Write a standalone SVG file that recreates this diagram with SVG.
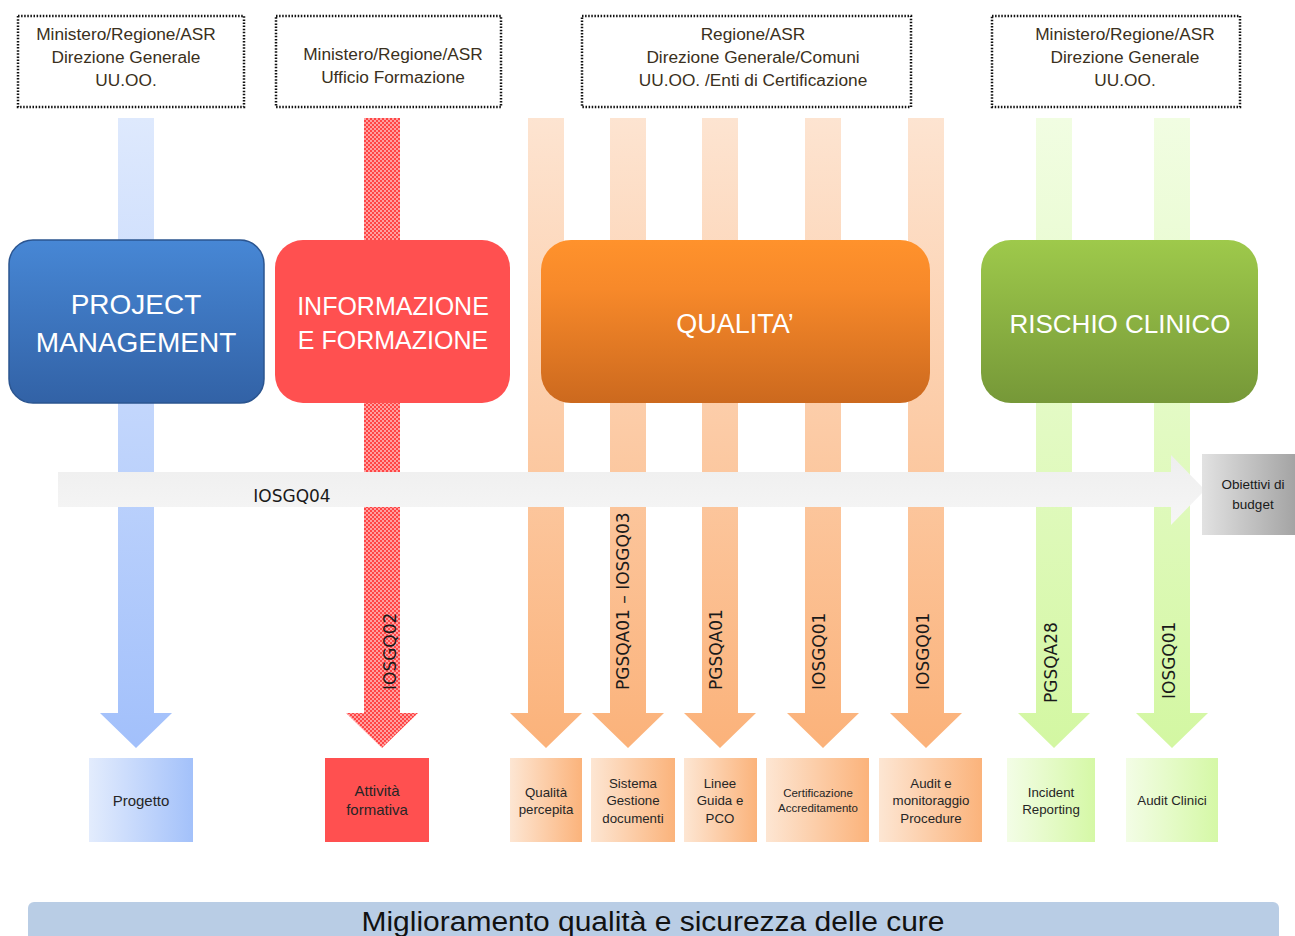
<svg xmlns="http://www.w3.org/2000/svg" width="1295" height="936" viewBox="0 0 1295 936">
<defs>
  <linearGradient id="gBlueBar" x1="0" y1="0" x2="0" y2="1"><stop offset="0" stop-color="#dee9fd"/><stop offset="1" stop-color="#a2c0fb"/></linearGradient>
  <linearGradient id="gOrBar" x1="0" y1="0" x2="0" y2="1"><stop offset="0" stop-color="#fde4d1"/><stop offset="1" stop-color="#fbb27a"/></linearGradient>
  <linearGradient id="gGrBar" x1="0" y1="0" x2="0" y2="1"><stop offset="0" stop-color="#f1fde2"/><stop offset="1" stop-color="#d3f7a2"/></linearGradient>
  <pattern id="pRed" width="4" height="4" patternUnits="userSpaceOnUse">
    <rect width="4" height="4" fill="#ffa0a0"/>
    <rect width="2" height="2" fill="#ff4545"/>
    <rect x="2" y="2" width="2" height="2" fill="#ff4545"/>
  </pattern>
  <linearGradient id="gGray" x1="0" y1="0" x2="0" y2="1"><stop offset="0" stop-color="#eeeeee"/><stop offset="1" stop-color="#f6f6f6"/></linearGradient>
  <linearGradient id="gObj" x1="0" y1="0" x2="1" y2="0"><stop offset="0" stop-color="#e2e2e2"/><stop offset="1" stop-color="#a4a4a4"/></linearGradient>
  <linearGradient id="gPM" x1="0" y1="0" x2="0" y2="1"><stop offset="0" stop-color="#4787d5"/><stop offset="1" stop-color="#3262a6"/></linearGradient>
  <linearGradient id="gQ" x1="0" y1="0" x2="0" y2="1"><stop offset="0" stop-color="#ff922c"/><stop offset="0.3" stop-color="#f7892a"/><stop offset="1" stop-color="#cc691e"/></linearGradient>
  <linearGradient id="gRC" x1="0" y1="0" x2="0" y2="1"><stop offset="0" stop-color="#9ec94b"/><stop offset="1" stop-color="#769838"/></linearGradient>
  <linearGradient id="gBlueBox" x1="0" y1="0" x2="1" y2="0"><stop offset="0" stop-color="#e3ecfd"/><stop offset="1" stop-color="#a3c1fa"/></linearGradient>
  <linearGradient id="gOrBox" x1="0" y1="0" x2="1" y2="0"><stop offset="0" stop-color="#fde6d3"/><stop offset="1" stop-color="#fbb37b"/></linearGradient>
  <linearGradient id="gGrBox" x1="0" y1="0" x2="1" y2="0"><stop offset="0" stop-color="#f3fde6"/><stop offset="1" stop-color="#d5f8a6"/></linearGradient>
</defs>
<style>
  .src rect { fill: #ffffff; stroke: #111111; stroke-width: 2.5; stroke-dasharray: 1.5 1.6; }
  .src text { font-family: "Liberation Sans", Arial, sans-serif; font-size: 17.3px; fill: #3a3020; text-anchor: middle; }
  .big text { font-family: "Liberation Sans", Arial, sans-serif; fill: #ffffff; text-anchor: middle; }
  .vlab { font-family: "DejaVu Sans", Verdana, sans-serif; font-size: 17px; fill: #1a1a1a; }
  .out text { font-family: "Liberation Sans", Arial, sans-serif; fill: #262626; text-anchor: middle; }
  .out text.m { font-size: 13.3px; }
  .out text.l { font-size: 15px; }
  .out text.s { font-size: 11.5px; }
</style>
<rect width="1295" height="936" fill="#ffffff"/>

<!-- source boxes -->
<g id="src1" class="src"><rect x="18" y="16" width="226" height="91"/>
  <text x="126" y="40">Ministero/Regione/ASR</text><text x="126" y="63">Direzione Generale</text><text x="126" y="86">UU.OO.</text></g>
<g id="src2" class="src"><rect x="276" y="16" width="225" height="91"/>
  <text x="393" y="60">Ministero/Regione/ASR</text><text x="393" y="83">Ufficio Formazione</text></g>
<g id="src3" class="src"><rect x="582" y="16" width="329" height="91"/>
  <text x="753" y="40">Regione/ASR</text><text x="753" y="63">Direzione Generale/Comuni</text><text x="753" y="86">UU.OO. /Enti di Certificazione</text></g>
<g id="src4" class="src"><rect x="992" y="16" width="248" height="91"/>
  <text x="1125" y="40">Ministero/Regione/ASR</text><text x="1125" y="63">Direzione Generale</text><text x="1125" y="86">UU.OO.</text></g>

<!-- connectors -->
<g id="connectors">
  <polygon fill="url(#gBlueBar)" points="118,118 154,118 154,713 172,713 136,748 100,713 118,713"/>
  <polygon fill="url(#pRed)" points="364,118 400,118 400,713 418,713 382,748 346,713 364,713"/>
  <polygon fill="url(#gOrBar)" points="528,118 564,118 564,713 582,713 546,748 510,713 528,713"/>
  <polygon fill="url(#gOrBar)" points="610,118 646,118 646,713 664,713 628,748 592,713 610,713"/>
  <polygon fill="url(#gOrBar)" points="702,118 738,118 738,713 756,713 720,748 684,713 702,713"/>
  <polygon fill="url(#gOrBar)" points="805,118 841,118 841,713 859,713 823,748 787,713 805,713"/>
  <polygon fill="url(#gOrBar)" points="908,118 944,118 944,713 962,713 926,748 890,713 908,713"/>
  <polygon fill="url(#gGrBar)" points="1036,118 1072,118 1072,713 1090,713 1054,748 1018,713 1036,713"/>
  <polygon fill="url(#gGrBar)" points="1154,118 1190,118 1190,713 1208,713 1172,748 1136,713 1154,713"/>
  <text class="vlab" transform="translate(396,690) rotate(-90)">IOSGQ02</text>
  <text class="vlab" transform="translate(629,690) rotate(-90)">PGSQA01 – IOSGQ03</text>
  <text class="vlab" transform="translate(722,690) rotate(-90)">PGSQA01</text>
  <text class="vlab" transform="translate(825,690) rotate(-90)">IOSGQ01</text>
  <text class="vlab" transform="translate(929,690) rotate(-90)">IOSGQ01</text>
  <text class="vlab" transform="translate(1057,703) rotate(-90)">PGSQA28</text>
  <text class="vlab" transform="translate(1175,699) rotate(-90)">IOSGQ01</text>
  <polygon fill="url(#gGray)" points="58,472 1171,472 1171,455 1205,490 1171,525 1171,507 58,507"/>
  <text x="292" y="502" font-family="'DejaVu Sans', Verdana, sans-serif" font-size="17" fill="#1a1a1a" text-anchor="middle">IOSGQ04</text>
</g>

<!-- main category boxes -->
<g id="pm" class="big">
  <rect x="9" y="240" width="255" height="163" rx="24" fill="url(#gPM)" stroke="#2b5590" stroke-width="1.5"/>
  <text x="136" y="314" font-size="28">PROJECT</text>
  <text x="136" y="352" font-size="28">MANAGEMENT</text>
</g>
<g id="info" class="big">
  <rect x="275" y="240" width="235" height="163" rx="28" fill="#ff5050"/>
  <text x="393" y="315" font-size="25">INFORMAZIONE</text>
  <text x="393" y="349" font-size="25">E FORMAZIONE</text>
</g>
<g id="qualita" class="big">
  <rect x="541" y="240" width="389" height="163" rx="30" fill="url(#gQ)"/>
  <text x="735" y="333" font-size="27">QUALITA’</text>
</g>
<g id="rischio" class="big">
  <rect x="981" y="240" width="277" height="163" rx="30" fill="url(#gRC)"/>
  <text x="1120" y="333" font-size="26">RISCHIO CLINICO</text>
</g>

<g id="obiettivi">
  <rect x="1202" y="454" width="93" height="81" fill="url(#gObj)"/>
  <text x="1253" y="489" font-family="'Liberation Sans', Arial, sans-serif" font-size="13.5" fill="#1a1a1a" text-anchor="middle">Obiettivi di</text>
  <text x="1253" y="509" font-family="'Liberation Sans', Arial, sans-serif" font-size="13.5" fill="#1a1a1a" text-anchor="middle">budget</text>
</g>

<!-- outputs -->
<g id="progetto" class="out"><rect x="89" y="758" width="104" height="84" fill="url(#gBlueBox)"/>
  <text class="l" x="141" y="806">Progetto</text></g>
<g id="attivita" class="out"><rect x="325" y="758" width="104" height="84" fill="#ff5050"/>
  <text class="l" x="377" y="796">Attività</text><text class="l" x="377" y="815">formativa</text></g>
<g id="qpercepita" class="out"><rect x="510" y="758" width="72" height="84" fill="url(#gOrBox)"/>
  <text class="m" x="546" y="797">Qualità</text><text class="m" x="546" y="814">percepita</text></g>
<g id="sgd" class="out"><rect x="591" y="758" width="84" height="84" fill="url(#gOrBox)"/>
  <text class="m" x="633" y="788">Sistema</text><text class="m" x="633" y="805">Gestione</text><text class="m" x="633" y="823">documenti</text></g>
<g id="linee" class="out"><rect x="684" y="758" width="73" height="84" fill="url(#gOrBox)"/>
  <text class="m" x="720" y="788">Linee</text><text class="m" x="720" y="805">Guida e</text><text class="m" x="720" y="823">PCO</text></g>
<g id="cert" class="out"><rect x="766" y="758" width="103" height="84" fill="url(#gOrBox)"/>
  <text class="s" x="818" y="797">Certificazione</text><text class="s" x="818" y="812">Accreditamento</text></g>
<g id="audit" class="out"><rect x="879" y="758" width="103" height="84" fill="url(#gOrBox)"/>
  <text class="m" x="931" y="788">Audit e</text><text class="m" x="931" y="805">monitoraggio</text><text class="m" x="931" y="823">Procedure</text></g>
<g id="incident" class="out"><rect x="1007" y="758" width="88" height="84" fill="url(#gGrBox)"/>
  <text class="m" x="1051" y="797">Incident</text><text class="m" x="1051" y="814">Reporting</text></g>
<g id="auditclinici" class="out"><rect x="1126" y="758" width="92" height="84" fill="url(#gGrBox)"/>
  <text class="m" x="1172" y="805">Audit Clinici</text></g>

<g id="miglioramento">
  <rect x="28" y="902" width="1251" height="60" rx="6" fill="#b9cde5"/>
  <text x="653" y="931" font-family="'Liberation Sans', Arial, sans-serif" font-size="27" fill="#111111" text-anchor="middle" textLength="583" lengthAdjust="spacingAndGlyphs">Miglioramento qualità e sicurezza delle cure</text>
</g>
</svg>
